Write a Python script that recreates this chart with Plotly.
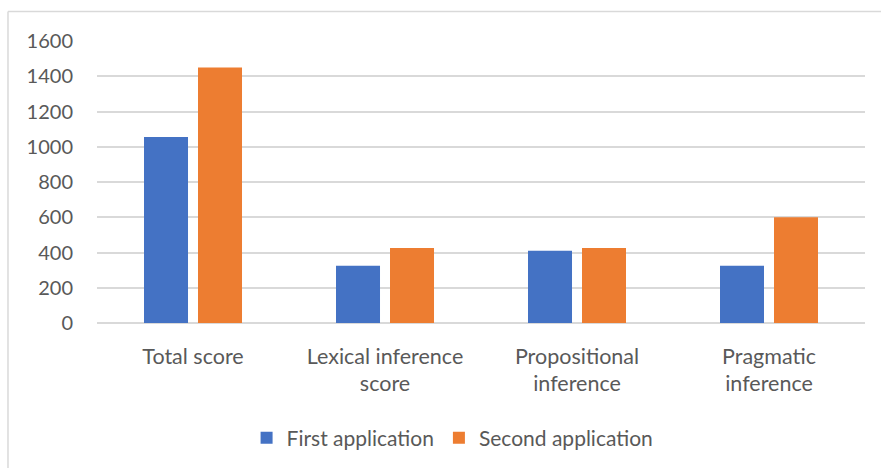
import plotly.graph_objects as go

categories = ["Total score", "Lexical inference<br>score", "Propositional<br>inference", "Pragmatic<br>inference"]
first_application = [1055, 325, 410, 325]
second_application = [1450, 425, 425, 600]
y_ticks = [0, 200, 400, 600, 800, 1000, 1200, 1400, 1600]

FONT = "Lato"
TEXT_COLOR = "#595959"
GRID_COLOR = "#d9d9d9"

fig = go.Figure()
fig.add_trace(go.Bar(name="First application", x=categories, y=first_application,
                     marker=dict(color="#4472C4", line=dict(width=0))))
fig.add_trace(go.Bar(name="Second application", x=categories, y=second_application,
                     marker=dict(color="#ED7D31", line=dict(width=0))))

fig.update_layout(
    width=881, height=468,
    margin=dict(l=97, r=16, t=41, b=145, autoexpand=False),
    paper_bgcolor="white", plot_bgcolor="white",
    barmode="group", bargap=0.4375, bargroupgap=0.185,
    font=dict(family=FONT, size=21, color=TEXT_COLOR),
    showlegend=True,
    legend=dict(orientation="h", x=0.463, xanchor="center", y=-0.408, yanchor="middle",
                font=dict(family=FONT, size=21, color=TEXT_COLOR),
                itemwidth=30, traceorder="normal"),
    xaxis=dict(showgrid=False, showline=False, ticks="", ticklabelstandoff=18,
               tickfont=dict(size=21.5), automargin=False),
    yaxis=dict(range=[0, 1600], tickvals=y_ticks, showgrid=True, gridcolor=GRID_COLOR,
               gridwidth=1.5, zeroline=True, zerolinecolor=GRID_COLOR, zerolinewidth=1.5,
               ticks="", ticklabelstandoff=23, tickfont=dict(size=20), automargin=False),
    shapes=[
        dict(type="line", xref="paper", yref="paper", x0=-0.1159, x1=1.03, y0=1.1046, y1=1.1046,
             line=dict(color=GRID_COLOR, width=1.5)),
        dict(type="line", xref="paper", yref="paper", x0=-0.1159, x1=-0.1159, y0=1.1046, y1=-0.52,
             line=dict(color=GRID_COLOR, width=1.5)),
    ],
)

fig.write_html("out.html")
